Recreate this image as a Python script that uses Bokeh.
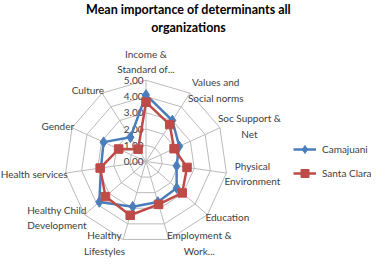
import math
from bokeh.plotting import figure
from bokeh.models import Range1d, Legend, LegendItem, ColumnDataSource
from bokeh.core.properties import value
from bokeh.embed import file_html
from bokeh.resources import INLINE

title_lines = ["Mean importance of determinants all", "organizations"]
categories = ["Income &\nStandard of...", "Values and\nSocial norms", "Soc Support &\nNet",
              "Physical\nEnvironment", "Education", "Employment &\nWork...", "Healthy\nLifestyles",
              "Healthy Child\nDevelopment", "Health services", "Gender", "Culture"]
camajuani = [4.10, 3.00, 2.25, 1.90, 2.50, 2.60, 2.90, 3.80, 2.80, 2.87, 1.77]
santa_clara = [3.65, 2.70, 1.90, 2.55, 2.95, 2.75, 3.45, 3.30, 2.85, 1.85, 0.90]
ticks = [0, 1, 2, 3, 4, 5]
tick_labels = ["0.00", "1.00", "2.00", "3.00", "4.00", "5.00"]
series_names = ["Camajuani", "Santa Clara"]

W, H = 371, 257
SCALE = 16.25         # px per unit
CX, CY = 145.5, 161   # centre in figure px
FONT = "Lato"
FS = "10px"

p = figure(width=W, height=H, output_backend="svg", toolbar_location=None,
           min_border=0, border_fill_color="white", background_fill_color="white")
p.x_range = Range1d(-CX / SCALE, (W - CX) / SCALE)
p.y_range = Range1d(-(H - CY) / SCALE, CY / SCALE)
p.axis.visible = False
p.grid.visible = False
p.outline_line_color = None

n = len(categories)
angles = [2 * math.pi * k / n for k in range(n)]
sx = [math.sin(a) for a in angles]
sy = [math.cos(a) for a in angles]

gxs, gys = [], []
for t in ticks[1:]:
    gxs.append([t * s for s in sx] + [t * sx[0]])
    gys.append([t * s for s in sy] + [t * sy[0]])
p.multi_line(gxs, gys, line_color="#BBBBBB", line_width=1)
rmax = ticks[-1]
p.multi_line([[0, rmax * s] for s in sx], [[0, rmax * s] for s in sy],
             line_color="#BBBBBB", line_width=1)

p.text(x=[0] * len(ticks), y=ticks, text=tick_labels, text_font=value(FONT),
       text_font_size=FS, text_align="right", text_baseline="middle",
       x_offset=-2.5, text_color="#404040")

lx, ly, anchors, xo, yo = [], [], [], [], []
for k in range(n):
    lx.append(rmax * sx[k])
    ly.append(rmax * sy[k])
    if abs(sx[k]) < 0.1:
        anchors.append("bottom_center"); xo.append(0); yo.append(-5)
    elif sx[k] > 0:
        anchors.append("center_left"); xo.append(-2); yo.append(-4 * sy[k])
    else:
        anchors.append("center_right"); xo.append(2); yo.append(-4 * sy[k])
src = ColumnDataSource(dict(x=lx, y=ly, t=categories, a=anchors, xo=xo, yo=yo))
p.text(x="x", y="y", text="t", anchor="a", x_offset="xo", y_offset="yo", source=src,
       text_font=value(FONT), text_font_size=FS, text_align="center",
       text_line_height=1.3, text_color="#404040")

colors = ["#4A7EBB", "#BE4B48"]
items = []
for name, vals, col, mk, sz in [(series_names[0], camajuani, colors[0], "diamond", 10.5),
                                 (series_names[1], santa_clara, colors[1], "square", 8.5)]:
    xs = [v * s for v, s in zip(vals, sx)] + [vals[0] * sx[0]]
    ys = [v * s for v, s in zip(vals, sy)] + [vals[0] * sy[0]]
    r1 = p.line(xs, ys, line_color=col, line_width=2.5)
    r2 = p.scatter(xs[:-1], ys[:-1], marker=mk, size=sz, fill_color=col, line_color=col)
    items.append(LegendItem(label=name, renderers=[r1, r2]))

legend = Legend(items=items, location=(293, 74), padding=0, margin=0, spacing=4,
                glyph_width=23, glyph_height=20, label_height=20, label_standoff=6,
                border_line_alpha=0, background_fill_alpha=0,
                label_text_font=FONT, label_text_font_size=FS, label_text_color="#404040")
p.add_layout(legend)

p.text(x=[(188 - CX) / SCALE] * 2, y=[(CY - 9) / SCALE, (CY - 27) / SCALE], text=title_lines,
       text_font=value(FONT), text_font_style="bold", text_font_size="12.5px",
       text_align="center", text_baseline="middle", text_color="#000000")

open("out.html", "w").write(file_html(p, INLINE))
